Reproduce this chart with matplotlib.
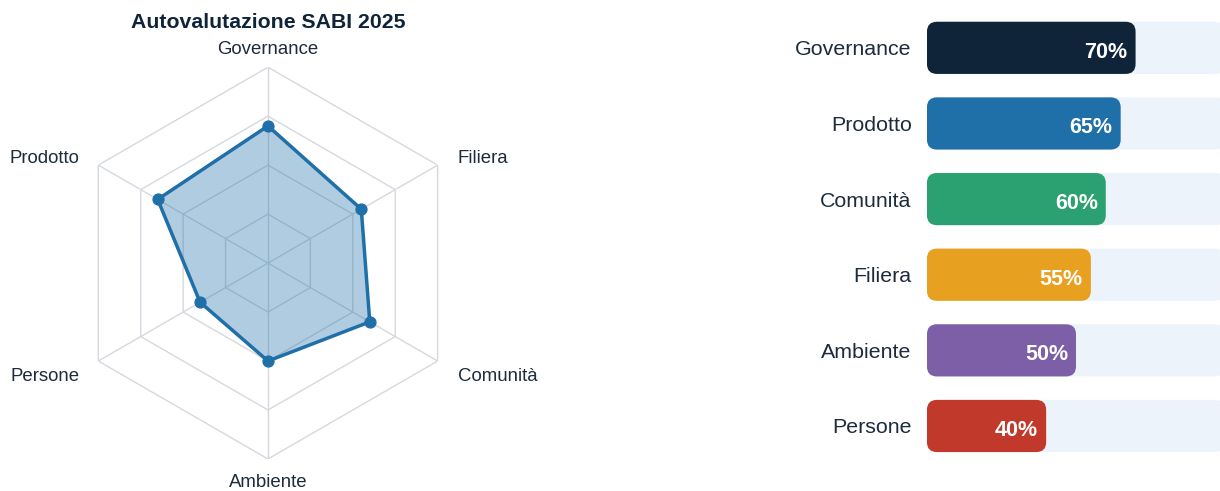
import numpy as np
import matplotlib.pyplot as plt
from matplotlib.patches import FancyBboxPatch

plt.rcParams['font.family'] = ['Liberation Sans', 'DejaVu Sans']

# radar data (clockwise from top)
radar_labels = ['Governance', 'Filiera', 'Comunità', 'Ambiente', 'Persone', 'Prodotto']
radar_values = [70, 55, 60, 50, 40, 65]
ring_levels = [25, 50, 75, 100]

# bar data (sorted)
bar_labels = ['Governance', 'Prodotto', 'Comunità', 'Filiera', 'Ambiente', 'Persone']
bar_values = [70, 65, 60, 55, 50, 40]
bar_colors = ['#0F2339', '#1F6FA8', '#2BA070', '#E8A020', '#7D5FA8', '#C0392B']

text_col = '#1E2B3C'
line_col = '#1F6FA8'
grid_col = '#D5D8DE'
track_col = '#EDF3FB'

fig = plt.figure(figsize=(12.2, 4.91), dpi=100)

# ---- radar ----
ax = fig.add_axes([0.059, 0.0652, 0.3213, 0.798], projection='polar')
ax.set_theta_zero_location('N')
ax.set_theta_direction(-1)
ax.set_ylim(0, 100)
ax.axis('off')

n = len(radar_labels)
ang = np.linspace(0, 2 * np.pi, n, endpoint=False)
ang_c = np.append(ang, ang[0])

for lv in ring_levels:
    ax.plot(ang_c, [lv] * (n + 1), color=grid_col, lw=1, zorder=1)
for a in ang:
    ax.plot([a, a], [0, 100], color=grid_col, lw=1, zorder=1)

vals = np.append(radar_values, radar_values[0])
ax.fill(ang_c, vals, color=line_col, alpha=0.35, lw=0, zorder=2)
ax.plot(ang_c, vals, color=line_col, lw=2.5, zorder=3)
ax.plot(ang, radar_values, 'o', color=line_col, ms=7.8, zorder=4)

# label offsets (pixels) from the outer vertex, baseline aligned
for a, lab in zip(ang, radar_labels):
    s, c = np.sin(a), np.cos(a)
    if abs(s) < 0.1:
        ha, dx = 'center', 0
        dy = 13 if c > 0 else -28
    else:
        ha = 'left' if s > 0 else 'right'
        dx = 20 if s > 0 else -19
        dy = 2 if c > 0 else -20
    ax.annotate(lab, (a, 100), xytext=(dx, dy), textcoords='offset pixels',
                ha=ha, va='baseline', fontsize=13.4, color=text_col)

fig.text(0.2197, 0.955, 'Autovalutazione SABI 2025', ha='center', va='center',
         fontsize=15.3, fontweight='bold', color='#0F2339')

# ---- bars ----
bx = fig.add_axes([0.7598, 0.040, 0.2443, 0.955])
bx.set_xlim(0, 100)
bx.set_ylim(5.6, -0.6)
for sp in bx.spines.values():
    sp.set_visible(False)
bx.set_xticks([])
bx.set_yticks(range(len(bar_labels)))
bx.set_yticklabels(bar_labels, fontsize=15.4, color=text_col, va='center_baseline')
bx.tick_params(axis='y', length=0, pad=11)

fig.canvas.draw()
bb = bx.get_window_extent()
x_per_px = 100 / bb.width
y_per_px = 6.2 / bb.height
asp = y_per_px / x_per_px
h = 0.69
rs = 10 * x_per_px

for i, (v, c) in enumerate(zip(bar_values, bar_colors)):
    bx.add_patch(FancyBboxPatch((0, i - h / 2), 100, h,
                                boxstyle=f'round,pad=0,rounding_size={rs}',
                                mutation_aspect=asp, fc=track_col, ec='none', zorder=1))
    bx.add_patch(FancyBboxPatch((0, i - h / 2), v, h,
                                boxstyle=f'round,pad=0,rounding_size={rs}',
                                mutation_aspect=asp, fc=c, ec='none', zorder=2))
    bx.annotate(f'{v}%', (v, i), xytext=(-8, -2), textcoords='offset pixels',
                ha='right', va='center_baseline', fontsize=15.5, fontweight='bold',
                color='white', zorder=3)

fig.savefig('out.png', dpi=100)
